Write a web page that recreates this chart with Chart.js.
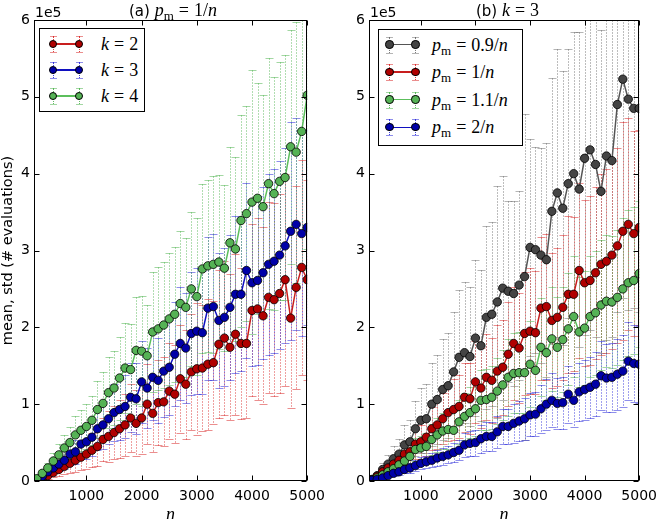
<!DOCTYPE html>
<html lang="en">
<head>
<meta charset="UTF-8">
<title>Mean and std of evaluations vs n</title>
<style>
    body { margin: 0; background: #fff; }
    #wrap { position: relative; width: 664px; height: 519px; overflow: hidden; font-family: 'DejaVu Sans', sans-serif; color: #000; }
    canvas { position: absolute; top: 0; }
    #chartA { left: 0; }
    #chartB { left: 332px; }

    .ptitle { position: absolute; top: 0; height: 20px; line-height: 20px; text-align: center; font-size: 15px; white-space: nowrap; }
    .mth { font-family: 'Liberation Serif', serif; font-size: 18px; }
    .mth sub { font-size: 13px; vertical-align: -0.28em; line-height: 0; }
    .eq { margin: 0 0.28em; }
    .offset { position: absolute; top: 4px; font-size: 14px; line-height: 16px; }

    .legend { position: absolute; background: #fff; border: 1px solid #000; box-sizing: border-box; }
    .row { position: absolute; left: 0; width: 100%; height: 20px; }
    .row .txt { position: absolute; top: 0; line-height: 20px; white-space: nowrap; }
    .hl { position: absolute; top: 9.25px; height: 1.5px; }
    .eb { position: absolute; top: 2px; height: 16px; width: 0; border-left: 1px dotted; }
    .cap { position: absolute; width: 7px; height: 0; border-top: 1px solid; }
    .dot { position: absolute; top: 5.8px; width: 8.4px; height: 8.4px; border-radius: 50%; border: 0.8px solid #000; box-sizing: border-box; }
</style>
</head>
<body>
<div id="wrap">
    <canvas id="chartA" width="332" height="519"></canvas>
    <canvas id="chartB" width="332" height="519"></canvas>

    <div class="ptitle" style="left:34px; width:278px;">(a) <span class="mth"><i>p</i><sub>m</sub><span class="eq">=</span>1/<i>n</i></span></div>
    <div class="ptitle" style="left:369px; width:277px;">(b) <span class="mth"><i>k</i><span class="eq">=</span>3</span></div>
    <div class="offset" style="left:35px;">1e5</div>
    <div class="offset" style="left:370px;">1e5</div>

    <div class="legend" id="legendA" style="left:39px; top:28px; width:106px; height:84px;"></div>
    <div class="legend" id="legendB" style="left:378px; top:29px; width:145px; height:117px;"></div>
</div>

<script src="https://cdn.jsdelivr.net/npm/chart.js"></script>
<script>
    // problem sizes n (x values)
    const nValues = [
        100, 200, 300, 400, 500, 600, 700, 800, 900, 1000,
        1100, 1200, 1300, 1400, 1500, 1600, 1700, 1800, 1900, 2000,
        2100, 2200, 2300, 2400, 2500, 2600, 2700, 2800, 2900, 3000,
        3100, 3200, 3300, 3400, 3500, 3600, 3700, 3800, 3900, 4000,
        4100, 4200, 4300, 4400, 4500, 4600, 4700, 4800, 4900, 5000
    ];
    const xTicks = [1000, 2000, 3000, 4000, 5000];
    const yTicks = [0, 1, 2, 3, 4, 5, 6]; // units of 1e5

    // (a) p_m = 1/n, mean and std in units of 1e5 evaluations
    const labelsA = ['k=2', 'k=3', 'k=4'];
    const meanK2 = [
        0.01, 0.03, 0.07, 0.11, 0.15, 0.19, 0.23, 0.27, 0.31, 0.35,
        0.40, 0.45, 0.54, 0.58, 0.63, 0.68, 0.73, 0.82, 0.75, 0.82,
        1.00, 0.88, 1.02, 1.03, 1.17, 1.13, 1.33, 1.26, 1.42, 1.46,
        1.47, 1.52, 1.54, 1.78, 1.86, 1.74, 1.91, 1.79, 1.79, 2.22,
        2.24, 2.15, 2.39, 2.36, 2.44, 2.62, 2.12, 2.52, 2.78, 2.62
    ];
    const stdK2 = [
        0.01, 0.02, 0.04, 0.06, 0.09, 0.10, 0.13, 0.15, 0.17, 0.20,
        0.22, 0.26, 0.28, 0.33, 0.34, 0.38, 0.40, 0.44, 0.43, 0.47,
        0.52, 0.50, 0.55, 0.58, 0.62, 0.64, 0.70, 0.71, 0.76, 0.86,
        0.82, 0.85, 0.80, 0.96, 1.00, 0.95, 1.05, 0.98, 0.97, 1.12,
        1.18, 1.15, 1.24, 1.26, 1.30, 1.38, 1.17, 1.32, 1.40, 1.30
    ];
    const meanK3 = [
        0.01, 0.06, 0.12, 0.17, 0.22, 0.27, 0.35, 0.38, 0.48, 0.51,
        0.57, 0.68, 0.73, 0.81, 0.89, 0.93, 0.97, 1.09, 1.07, 1.29,
        1.21, 1.35, 1.31, 1.43, 1.48, 1.65, 1.79, 1.73, 1.92, 1.95,
        1.93, 2.25, 2.27, 2.09, 2.13, 2.26, 2.43, 2.43, 2.74, 2.58,
        2.61, 2.71, 2.82, 2.86, 2.94, 3.06, 3.25, 3.34, 3.22, 3.30
    ];
    const stdK3 = [
        0.01, 0.03, 0.05, 0.07, 0.09, 0.12, 0.14, 0.16, 0.19, 0.22,
        0.24, 0.28, 0.31, 0.33, 0.37, 0.40, 0.41, 0.45, 0.46, 0.53,
        0.52, 0.56, 0.55, 0.60, 0.62, 0.68, 0.74, 0.72, 0.80, 0.82,
        0.80, 0.93, 0.95, 0.88, 0.90, 0.94, 1.02, 1.00, 1.14, 1.08,
        1.10, 1.12, 1.18, 1.20, 1.22, 1.27, 1.42, 1.38, 1.33, 1.27
    ];
    const meanK4 = [
        0.03, 0.10, 0.17, 0.26, 0.34, 0.43, 0.50, 0.60, 0.66, 0.71,
        0.79, 0.93, 1.01, 1.15, 1.21, 1.34, 1.47, 1.45, 1.70, 1.69,
        1.63, 1.94, 1.98, 2.03, 2.11, 2.17, 2.31, 2.26, 2.50, 2.40,
        2.76, 2.80, 2.82, 2.85, 2.77, 3.10, 3.02, 3.39, 3.48, 3.63,
        3.68, 3.57, 3.87, 3.74, 3.90, 3.95, 4.35, 4.28, 4.55, 5.02
    ];
    const stdK4 = [
        0.01, 0.04, 0.07, 0.10, 0.14, 0.17, 0.20, 0.24, 0.27, 0.29,
        0.32, 0.37, 0.41, 0.46, 0.48, 0.54, 0.58, 0.59, 0.70, 0.72,
        0.66, 0.78, 0.80, 0.82, 0.86, 0.88, 0.95, 0.90, 1.00, 1.02,
        1.10, 1.12, 1.15, 1.13, 1.08, 1.25, 1.20, 1.38, 1.40, 1.72,
        1.50, 1.45, 1.63, 1.52, 1.55, 1.60, 1.52, 1.70, 1.80, 2.00
    ];

    // (b) k = 3
    const labelsB = ['p_m=0.9/n', 'p_m=1/n', 'p_m=1.1/n', 'p_m=2/n'];
    const meanP09 = [
        0.02, 0.07, 0.15, 0.22, 0.29, 0.35, 0.47, 0.51, 0.68, 0.79,
        0.81, 1.00, 1.06, 1.19, 1.24, 1.42, 1.61, 1.67, 1.62, 1.86,
        1.76, 2.13, 2.17, 2.33, 2.51, 2.47, 2.44, 2.55, 2.66, 3.04,
        3.01, 2.94, 2.88, 3.51, 3.75, 3.55, 3.87, 4.00, 3.80, 4.20,
        4.31, 4.12, 3.77, 4.23, 4.17, 4.90, 5.23, 4.97, 4.85, 4.85
    ];
    const stdP09 = [
        0.01, 0.04, 0.08, 0.12, 0.16, 0.20, 0.26, 0.28, 0.36, 0.42,
        0.45, 0.54, 0.58, 0.66, 0.68, 0.78, 0.88, 0.92, 0.90, 1.02,
        0.98, 1.19, 1.20, 1.51, 1.46, 1.18, 1.21, 1.23, 2.12, 1.41,
        1.34, 1.40, 1.52, 1.73, 1.87, 1.78, 1.75, 1.85, 2.05, 2.30,
        2.35, 2.25, 2.10, 2.40, 2.30, 2.70, 2.85, 2.75, 2.60, 2.65
    ];
    // same runs as k=3 in (a)
    const meanP10 = meanK3;
    const stdP10 = stdK3;
    const meanP11 = [
        0.01, 0.04, 0.08, 0.12, 0.16, 0.21, 0.26, 0.32, 0.41, 0.43,
        0.45, 0.54, 0.60, 0.65, 0.67, 0.66, 0.77, 0.84, 0.89, 0.94,
        1.05, 1.06, 1.09, 1.17, 1.25, 1.35, 1.40, 1.41, 1.41, 1.52,
        1.44, 1.74, 1.67, 1.85, 1.74, 1.84, 1.98, 2.14, 1.94, 1.99,
        2.14, 2.19, 2.29, 2.34, 2.33, 2.39, 2.50, 2.58, 2.61, 2.70
    ];
    const stdP11 = [
        0.01, 0.02, 0.03, 0.05, 0.06, 0.08, 0.10, 0.12, 0.15, 0.16,
        0.17, 0.20, 0.22, 0.24, 0.25, 0.25, 0.29, 0.31, 0.33, 0.35,
        0.39, 0.40, 0.41, 0.43, 0.46, 0.50, 0.52, 0.53, 0.52, 0.56,
        0.54, 0.64, 0.62, 0.68, 0.65, 0.68, 0.73, 0.79, 0.72, 0.74,
        0.79, 0.81, 0.85, 0.86, 0.86, 0.88, 0.92, 0.95, 0.96, 0.95
    ];
    const meanP20 = [
        0.01, 0.02, 0.04, 0.07, 0.10, 0.12, 0.15, 0.17, 0.20, 0.23,
        0.25, 0.27, 0.30, 0.32, 0.34, 0.37, 0.40, 0.47, 0.49, 0.50,
        0.55, 0.58, 0.58, 0.64, 0.71, 0.71, 0.75, 0.78, 0.81, 0.86,
        0.87, 0.94, 1.00, 1.05, 1.01, 1.02, 1.13, 1.05, 1.16, 1.19,
        1.22, 1.26, 1.37, 1.34, 1.35, 1.39, 1.43, 1.56, 1.53, 1.52
    ];
    const stdP20 = [
        0.00, 0.01, 0.01, 0.02, 0.03, 0.04, 0.05, 0.06, 0.07, 0.08,
        0.08, 0.09, 0.10, 0.11, 0.11, 0.12, 0.13, 0.16, 0.16, 0.17,
        0.18, 0.19, 0.19, 0.21, 0.23, 0.23, 0.25, 0.26, 0.27, 0.28,
        0.29, 0.31, 0.33, 0.35, 0.33, 0.34, 0.37, 0.35, 0.38, 0.39,
        0.40, 0.42, 0.45, 0.44, 0.45, 0.46, 0.47, 0.51, 0.50, 0.50
    ];

    // colours (marker fill, line, error bar line, error bar caps)
    const RED   = { fill: '#b00000', line: '#c81e1e', err: 'rgba(215, 30, 30, 0.85)', cap: 'rgba(215, 30, 30, 0.5)' };
    const BLUE  = { fill: '#0000a8', line: '#1010c0', err: 'rgba(30, 30, 215, 0.85)', cap: 'rgba(30, 30, 215, 0.5)' };
    const GREEN = { fill: '#55b255', line: '#5cbf5c', err: 'rgba(70, 175, 70, 0.85)', cap: 'rgba(70, 175, 70, 0.5)' };
    const GREY  = { fill: '#444444', line: '#555555', err: 'rgba(90, 90, 90, 0.8)', cap: 'rgba(90, 90, 90, 0.45)' };

    // error bars: dotted vertical line with caps, clipped to the plot area
    const errorBars = {
        id: 'errorBars',
        beforeDatasetsDraw(chart) {
            const { ctx, chartArea: a, scales: { x, y } } = chart;
            ctx.save();
            ctx.beginPath();
            ctx.rect(a.left, a.top, a.right - a.left, a.bottom - a.top);
            ctx.clip();
            ctx.lineWidth = 1;
            chart.data.datasets.forEach(ds => {
                ds.data.forEach(p => {
                    const px = Math.round(x.getPixelForValue(p.x)) + 0.5;
                    const top = Math.round(y.getPixelForValue(p.y + p.std)) + 0.5;
                    const bot = Math.round(y.getPixelForValue(p.y - p.std)) + 0.5;
                    ctx.strokeStyle = ds.errColor;
                    ctx.setLineDash([1, 2]);
                    ctx.beginPath();
                    ctx.moveTo(px, top);
                    ctx.lineTo(px, bot);
                    ctx.stroke();
                    ctx.strokeStyle = ds.capColor;
                    ctx.setLineDash([]);
                    ctx.beginPath();
                    ctx.moveTo(px - 4, top); ctx.lineTo(px + 4, top);
                    ctx.moveTo(px - 4, bot); ctx.lineTo(px + 4, bot);
                    ctx.stroke();
                });
            });
            ctx.restore();
        }
    };

    // box round the axes plus inward ticks on all four sides
    const frame = {
        id: 'frame',
        afterDraw(chart) {
            const { ctx, chartArea: a, scales: { x, y } } = chart;
            const L = Math.round(a.left) + 0.5, R = Math.round(a.right) - 0.5;
            const T = Math.round(a.top) + 0.5, B = Math.round(a.bottom) - 0.5;
            ctx.save();
            ctx.strokeStyle = '#000';
            ctx.lineWidth = 1;
            ctx.strokeRect(L, T, R - L, B - T);
            ctx.beginPath();
            x.ticks.forEach(t => {
                const px = Math.round(x.getPixelForValue(t.value)) + 0.5;
                ctx.moveTo(px, B); ctx.lineTo(px, B - 5);
                ctx.moveTo(px, T); ctx.lineTo(px, T + 5);
            });
            y.ticks.forEach(t => {
                const py = Math.round(y.getPixelForValue(t.value)) + 0.5;
                ctx.moveTo(L, py); ctx.lineTo(L + 5, py);
                ctx.moveTo(R, py); ctx.lineTo(R - 5, py);
            });
            ctx.stroke();
            ctx.restore();
        }
    };

    function makePanel(canvasId, labels, means, stds, styles, yWidth, rightPad, yTitle) {
        const datasets = means.map((m, i) => ({
            label: labels[i],
            data: nValues.map((n, j) => ({ x: n, y: m[j], std: stds[i][j] })),
            borderColor: styles[i].line,
            borderWidth: 1.5,
            pointRadius: 4.2,
            pointHoverRadius: 4.2,
            pointBackgroundColor: styles[i].fill,
            pointBorderColor: '#000',
            pointBorderWidth: 0.8,
            errColor: styles[i].err,
            capColor: styles[i].cap,
            order: -i,
            clip: 0
        }));
        return new Chart(document.getElementById(canvasId), {
            type: 'line',
            data: { datasets: datasets },
            options: {
                responsive: false,
                animation: false,
                events: [],
                layout: { padding: { top: 20, right: rightPad, left: 0, bottom: 0 } },
                plugins: { legend: { display: false }, tooltip: { enabled: false } },
                scales: {
                    x: {
                        type: 'linear',
                        min: 50,
                        max: 5000,
                        afterBuildTicks: s => { s.ticks = xTicks.map(v => ({ value: v })); },
                        afterFit: s => { s.height = 38; },
                        grid: { display: false, drawTicks: false },
                        border: { display: false },
                        ticks: { color: '#000', padding: 7, maxRotation: 0, autoSkip: false,
                                 callback: v => String(v),
                                 font: { family: 'DejaVu Sans', size: 14 } },
                        title: { display: true, text: 'n', color: '#000', padding: { top: 0, bottom: -5 },
                                 font: { family: 'Liberation Serif', style: 'italic', size: 18, lineHeight: 1 } }
                    },
                    y: {
                        min: 0,
                        max: 6,
                        afterBuildTicks: s => { s.ticks = yTicks.map(v => ({ value: v })); },
                        afterFit: s => { s.width = yWidth; },
                        grid: { display: false, drawTicks: false },
                        border: { display: false },
                        ticks: { color: '#000', padding: 4, callback: v => String(v),
                                 font: { family: 'DejaVu Sans', size: 14 } },
                        title: { display: !!yTitle, text: yTitle || '', color: '#000', padding: 0,
                                 font: { family: 'DejaVu Sans', size: 14.5 } }
                    }
                }
            },
            plugins: [errorBars, frame]
        });
    }

    makePanel('chartA', labelsA, [meanK2, meanK3, meanK4], [stdK2, stdK3, stdK4],
              [RED, BLUE, GREEN], 34, 20, 'mean, std (# evaluations)');
    makePanel('chartB', labelsB, [meanP09, meanP10, meanP11, meanP20], [stdP09, stdP10, stdP11, stdP20],
              [GREY, RED, GREEN, BLUE], 37, 18, null);

    // legends (HTML so the math text stays real text)
    function mathHtml(s) {
        const [lhs, rhs] = s.split('=');
        const l = lhs === 'p_m' ? '<i>p</i><sub>m</sub>' : '<i>' + lhs + '</i>';
        return l + '<span class="eq">=</span>' + rhs.replace('n', '<i>n</i>');
    }

    function buildLegend(id, labels, styles, rowTop, rowStep, markX, textX) {
        const box = document.getElementById(id);
        labels.forEach((lab, i) => {
            const st = styles[i];
            const row = document.createElement('div');
            row.className = 'row';
            row.style.top = (rowTop + i * rowStep - 10) + 'px';
            let html = '';
            markX.forEach(mx => {
                html += '<div class="eb" style="left:' + (mx - 0.5) + 'px; border-color:' + st.err + '"></div>';
                html += '<div class="cap" style="left:' + (mx - 3.5) + 'px; top:2px; border-color:' + st.cap + '"></div>';
                html += '<div class="cap" style="left:' + (mx - 3.5) + 'px; top:18px; border-color:' + st.cap + '"></div>';
            });
            html += '<div class="hl" style="left:' + markX[0] + 'px; width:' + (markX[1] - markX[0]) + 'px; background:' + st.line + '"></div>';
            markX.forEach(mx => {
                html += '<div class="dot" style="left:' + (mx - 4.2) + 'px; background:' + st.fill + '"></div>';
            });
            html += '<div class="txt mth" style="left:' + textX + 'px">' + mathHtml(lab) + '</div>';
            row.innerHTML = html;
            box.appendChild(row);
        });
    }

    buildLegend('legendA', labelsA, [RED, BLUE, GREEN], 15, 26, [13, 39], 61);
    buildLegend('legendB', labelsB, [GREY, RED, GREEN, BLUE], 14.5, 27.6, [10.5, 36.5], 53);
</script>
</body>
</html>
